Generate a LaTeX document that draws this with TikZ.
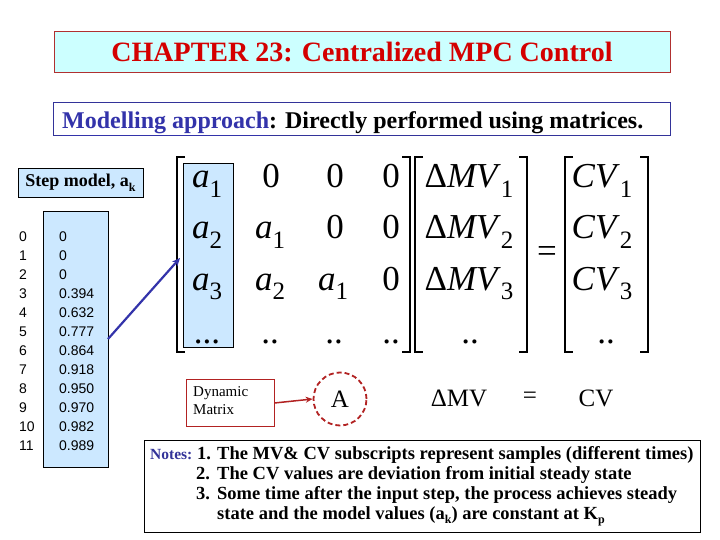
\documentclass[tikz,border=0pt]{standalone}
\usepackage{fontspec}
\setmainfont{Liberation Serif}
\newfontfamily\tabfont{Liberation Sans}
\usetikzlibrary{arrows.meta}
\definecolor{titlefill}{HTML}{CCFFFF}
\definecolor{titleborder}{HTML}{B03030}
\definecolor{titletext}{HTML}{D40000}
\definecolor{navy}{HTML}{333399}
\definecolor{linkblue}{HTML}{3333AA}
\definecolor{paleblue}{HTML}{CCE8FF}
\definecolor{darkred}{HTML}{B22222}
\newcommand\sbs[1]{\raisebox{-0.28em}{\fontsize{25}{25}\selectfont #1}}
\newcommand\smsub[1]{\raisebox{-0.25em}{\fontsize{12}{12}\selectfont #1}}
\begin{document}
\begin{tikzpicture}[x=1pt,y=-1pt,
  mat/.style={font=\fontsize{35}{35}\selectfont, inner sep=0pt, anchor=base},
  tab/.style={font=\tabfont\fontsize{14}{14}\selectfont, inner sep=0pt, anchor=base west},
  note/.style={font=\bfseries\fontsize{18.5}{18.5}\selectfont, inner sep=0pt, anchor=base west},
  big/.style={font=\fontsize{25}{25}\selectfont, inner sep=0pt},
  brk/.style={line width=1.8pt}]
\useasboundingbox (0,0) rectangle (720,540);
\fill[white] (0,0) rectangle (720,540);

% title
\node[draw=titleborder, fill=titlefill, line width=0.8pt, minimum width=616pt, minimum height=41pt, inner sep=0pt,
  font=\bfseries\fontsize{28}{28}\selectfont, text=titletext] (title) at (362,52) {CHAPTER 23: Centralized MPC Control};

% subtitle
\node[draw=navy, line width=0.8pt, minimum width=617pt, minimum height=33pt, inner sep=0pt] (sub) at (362,119) {};
\node[font=\bfseries\fontsize{24}{24}\selectfont, anchor=base west, inner sep=0pt] (subtxt) at (62,129)
  {\textcolor{linkblue}{\underline{Modelling approach}}: Directly performed using matrices.};

% step model label
\node[draw=black, fill=paleblue, line width=0.6pt, minimum width=125pt, minimum height=29pt, inner sep=0pt,
  font=\bfseries\fontsize{18}{18}\selectfont] (step) at (80.5,183) {Step model, a\smsub{k}};

% table
\node[draw=black, fill=paleblue, line width=0.6pt, minimum width=65pt, minimum height=256pt, inner sep=0pt] (tbl) at (75.5,339) {};
\foreach \k/\v [count=\i from 0] in {0/0,1/0,2/0,3/0.394,4/0.632,5/0.777,6/0.864,7/0.918,8/0.950,9/0.970,10/0.982,11/0.989}{
  \node[tab] (k\i) at (19,{241+19*\i}) {\k};
  \node[tab] (v\i) at (59,{241+19*\i}) {\v};
}

% highlight of first column
\node[draw=black, fill=paleblue, line width=0.6pt, minimum width=50pt, minimum height=184pt, inner sep=0pt] (hl) at (208,255) {};

% brackets
\draw[brk] (185,157) -- (177,157) -- (177,352) -- (185,352);
\draw[brk] (402,157) -- (410,157) -- (410,352) -- (402,352);
\draw[brk] (423,157) -- (415,157) -- (415,352) -- (423,352);
\draw[brk] (519,157) -- (527,157) -- (527,352) -- (519,352);
\draw[brk] (573,157) -- (565,157) -- (565,352) -- (573,352);
\draw[brk] (640,157) -- (648,157) -- (648,352) -- (640,352);

% matrix entries
\node[mat] (m11) at (207,188) {\textit{a}\sbs{1}};
\node[mat] (m12) at (271,188) {0};
\node[mat] (m13) at (335,188) {0};
\node[mat] (m14) at (391,188) {0};
\node[mat] (m21) at (207,239) {\textit{a}\sbs{2}};
\node[mat] (m22) at (270,239) {\textit{a}\sbs{1}};
\node[mat] (m23) at (335,239) {0};
\node[mat] (m24) at (391,239) {0};
\node[mat] (m31) at (207,290) {\textit{a}\sbs{3}};
\node[mat] (m32) at (270,290) {\textit{a}\sbs{2}};
\node[mat] (m33) at (333,290) {\textit{a}\sbs{1}};
\node[mat] (m34) at (391,290) {0};
\node[mat] (m41) at (207,343) {...};
\node[mat] (m42) at (270,343) {..};
\node[mat] (m43) at (334,343) {..};
\node[mat] (m44) at (391,343) {..};
\node[mat] (d1) at (469,188) {Δ\textit{MV}\sbs{1}};
\node[mat] (d2) at (469,239) {Δ\textit{MV}\sbs{2}};
\node[mat] (d3) at (469,290) {Δ\textit{MV}\sbs{3}};
\node[mat] (d4) at (470,343) {..};
\node[mat] (c1) at (602,188) {\textit{CV}\sbs{1}};
\node[mat] (c2) at (602,239) {\textit{CV}\sbs{2}};
\node[mat] (c3) at (602,290) {\textit{CV}\sbs{3}};
\node[mat] (c4) at (606,343) {..};
\node[font=\fontsize{35}{35}\selectfont, inner sep=0pt] (eq) at (547,255) {=};

% blue arrow from table to first column
\coordinate (ta) at (108,339);
\coordinate (tb) at (180,258);
\draw[linkblue, line width=2.2pt, -{Stealth[length=8pt,width=7pt]}] (ta) -- (tb);

% bottom row
\node[draw=darkred, line width=0.8pt, minimum width=88pt, minimum height=47pt, inner sep=0pt] (dyn) at (230,403) {};
\node[font=\fontsize{15}{18}\selectfont, align=left, anchor=west, inner sep=0pt] (dyntxt) at (193,401) {Dynamic\\Matrix};
\node[circle, draw=darkred, dashed, dash pattern=on 5pt off 3pt, line width=1.8pt, minimum size=53pt, inner sep=0pt,
  font=\fontsize{25}{25}\selectfont] (A) at (340,399) {A};
\draw[darkred, line width=1.5pt, -{Stealth[length=7pt,width=6pt]}] (dyn.east) -- (A.west);
\node[big] (dmv) at (459,398) {ΔMV};
\node[big] (eq2) at (530,398) {=};
\node[big] (cv) at (596,398) {CV};

% notes
\node[draw=black, line width=0.8pt, minimum width=556pt, minimum height=92pt, inner sep=0pt] (notes) at (422,486) {};
\node[note, text=navy, font=\bfseries\fontsize{15.5}{15.5}\selectfont] (n0) at (150,459) {Notes:};
\node[note] (n1a) at (197,459) {1.};
\node[note] (n1) at (217,459) {The MV\& CV subscripts represent samples (different times)};
\node[note] (n2a) at (196,479) {2.};
\node[note] (n2) at (217,479) {The CV values are deviation from initial steady state};
\node[note] (n3a) at (196,499) {3.};
\node[note] (n3) at (217,499) {Some time after the input step, the process achieves steady};
\node[note] (n4) at (217,519) {state and the model values (a\smsub{k}) are constant at K\smsub{p}};
\end{tikzpicture}
\end{document}
